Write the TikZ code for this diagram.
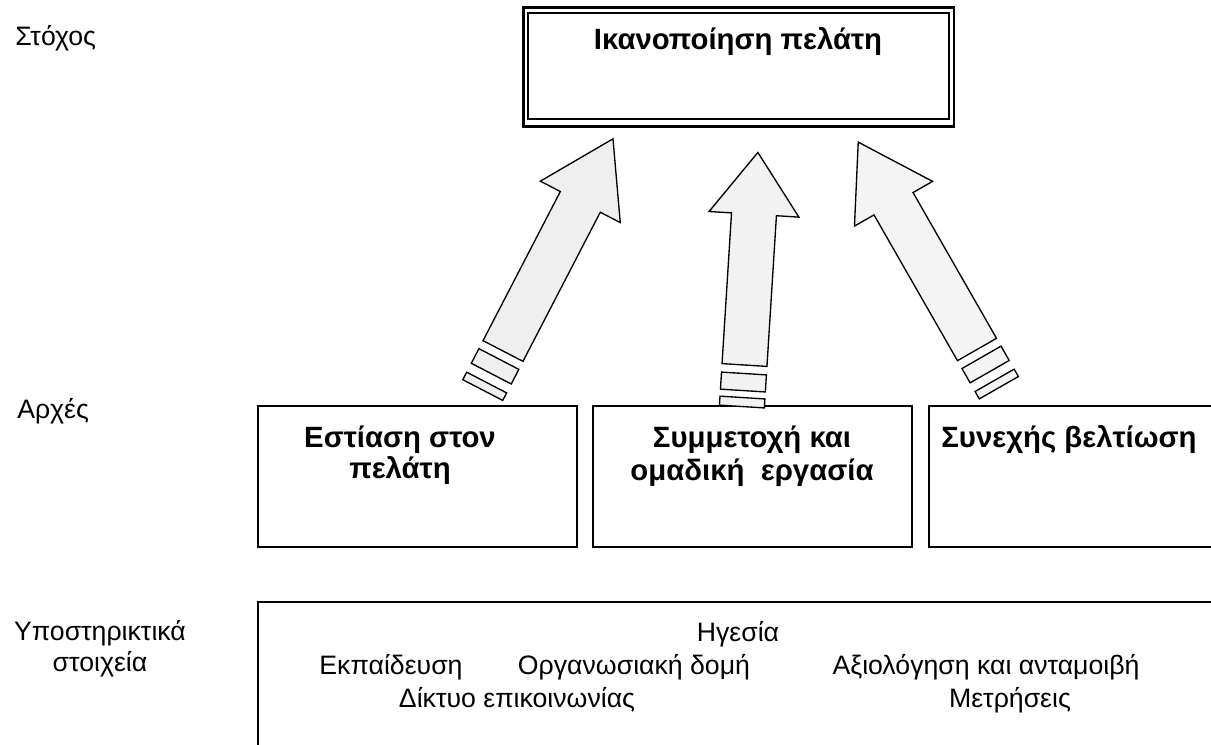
\documentclass[tikz,border=0pt]{standalone}
\usepackage{fontspec}
\setmainfont{Liberation Sans}
\definecolor{arrowfillA}{RGB}{239,239,239}
\definecolor{arrowfillB}{RGB}{242,242,242}
\definecolor{arrowfillC}{RGB}{244,244,244}
\begin{document}
\begin{tikzpicture}[x=0.75pt,y=-0.75pt,
  box/.style={draw=black,line width=1.2pt},
  arrowbody/.style={draw=black,line width=1pt,line join=miter},
  lbl/.style={font=\fontsize{20}{24}\selectfont,inner sep=0pt,anchor=base},
  blbl/.style={font=\fontsize{22}{26}\selectfont\bfseries,inner sep=0pt,anchor=base}]
\useasboundingbox (0,0) rectangle (1211,744);
\clip (0,0) rectangle (1211,744);
\fill[white] (0,0) rectangle (1211,744);
% top box (double border)
\draw[line width=2pt] (523.3,7.3) rectangle (954,126.3);
\draw[line width=1.3pt] (528,12.7) rectangle (949,119);
\node[blbl] (goal) at (738,49) {Ικανοποίηση πελάτη};
% principle boxes
\draw[box] (258,406) rectangle (577,547);
\draw[box] (593,406) rectangle (912,547);
\draw[box] (929,406) rectangle (1240,547);
% supporting box
\draw[box] (258,602) rectangle (1240,770);
% arrows
\coordinate (B1) at (503,351);
\coordinate (B2) at (744.5,365);
\coordinate (B3) at (977,349.5);
\begin{scope}[shift={(B1)},rotate=-27.4,x=0.75pt,y=0.75pt]
\draw[arrowbody,fill=arrowfillA] (-22.5,0) -- (22.5,0) -- (22.5,168) -- (45,168) -- (0,239) -- (-45,168) -- (-22.5,168) -- cycle;
\draw[arrowbody,fill=arrowfillA] (-22.5,-9) rectangle (22.5,-25.5);
\draw[arrowbody,fill=arrowfillA] (-22.5,-35.5) rectangle (22.5,-44);
\end{scope}
\begin{scope}[shift={(B2)},rotate=-3.6,x=0.75pt,y=0.75pt]
\draw[arrowbody,fill=arrowfillB] (-22.5,0) -- (22.5,0) -- (22.5,151) -- (45,151) -- (0,213) -- (-45,151) -- (-22.5,151) -- cycle;
\draw[arrowbody,fill=arrowfillB] (-22.5,-8.5) rectangle (22.5,-25.6);
\draw[arrowbody,fill=arrowfillB] (-22.5,-32.6) rectangle (22.5,-41.6);
\end{scope}
\begin{scope}[shift={(B3)},rotate=29.8,x=0.75pt,y=0.75pt]
\draw[arrowbody,fill=arrowfillC] (-22.5,0) -- (22.5,0) -- (22.5,168) -- (45,168) -- (0,239) -- (-45,168) -- (-22.5,168) -- cycle;
\draw[arrowbody,fill=arrowfillC] (-22.5,-9) rectangle (22.5,-25.5);
\draw[arrowbody,fill=arrowfillC] (-22.5,-35.5) rectangle (22.5,-44);
\end{scope}
% left labels
\node[lbl,anchor=base west] (stochos) at (15,45) {Στόχος};
\node[lbl,anchor=base west] (arches) at (17,418) {Αρχές};
\node[lbl] (ypo1) at (100,640) {Υποστηρικτικά};
\node[lbl] (ypo2) at (100,671) {στοιχεία};
% principle texts
\node[blbl] (p1a) at (400,447) {Εστίαση στον};
\node[blbl] (p1b) at (400,478) {πελάτη};
\node[blbl] (p2a) at (752,447) {Συμμετοχή και};
\node[blbl] (p2b) at (752,480) {ομαδική\ \ εργασία};
\node[blbl] (p3a) at (1069,447) {Συνεχής βελτίωση};
% supporting texts
\node[lbl] (s1) at (738,641) {Ηγεσία};
\node[lbl] (s2) at (391,674) {Εκπαίδευση};
\node[lbl] (s3) at (634,674) {Οργανωσιακή δομή};
\node[lbl] (s4) at (986,674) {Αξιολόγηση και ανταμοιβή};
\node[lbl] (s5) at (517,707) {Δίκτυο επικοινωνίας};
\node[lbl] (s6) at (1010,707) {Μετρήσεις};
\end{tikzpicture}
\end{document}
